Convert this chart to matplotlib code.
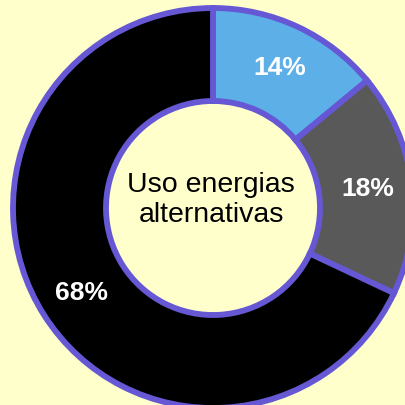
import matplotlib
matplotlib.use("Agg")
import matplotlib.pyplot as plt
import numpy as np

labels = ["Sí", "A veces", "No"]
values = [14, 18, 68]
pct_labels = ["14%", "18%", "68%"]
colors = ["#5DAFE8", "#595959", "#000000"]
center_text = "Uso energias\nalternativas"

bg = "#FFFFCC"
edge = "#6658D4"

fig = plt.figure(figsize=(4.05, 4.06), dpi=100, facecolor=bg)
ax = fig.add_axes([0, 0, 1, 1])
ax.set_facecolor(bg)

wedges, _ = ax.pie(values, colors=colors, startangle=90, counterclock=False,
                   radius=1.0,
                   wedgeprops=dict(width=0.465, edgecolor=edge, linewidth=4.2))

cum = np.cumsum([0] + values[:-1])
total = sum(values)
for v, c, lab in zip(values, cum, pct_labels):
    ang = np.deg2rad(90 - (c + v / 2) / total * 360)
    r = 0.78
    ax.text(r * np.cos(ang), r * np.sin(ang), lab, color="white",
            fontsize=19, fontweight="bold", ha="center", va="center",
            family="Liberation Sans")

ax.text(-0.01, 0.045, center_text, ha="center", va="center", fontsize=20.5,
        color="black", family="Liberation Sans", linespacing=1.2)

ax.set_xlim(-1.065, 0.96)
ax.set_ylim(-0.985, 1.045)
ax.set_aspect("auto")
ax.axis("off")

fig.savefig("out.png", dpi=100, facecolor=bg)
